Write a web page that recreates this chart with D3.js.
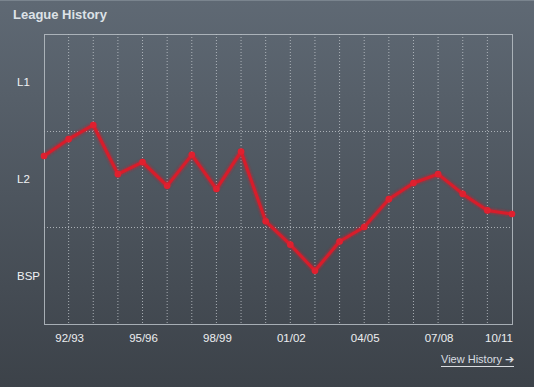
<!DOCTYPE html>
<html><head><meta charset="utf-8">
<script src="https://cdn.jsdelivr.net/npm/d3@7"></script>
<style>
html,body{margin:0;padding:0;background:#4a525b;}
svg{display:block;font-family:"Liberation Sans",Arial,sans-serif;}
</style></head>
<body><svg id="c" width="534" height="387"></svg>
<script>
const seasons = ["91/92","92/93","93/94","94/95","95/96","96/97","97/98","98/99","99/00","00/01","01/02","02/03","03/04","04/05","05/06","06/07","07/08","08/09","09/10","10/11"];
// overall position across the three divisions (1-24 L1, 25-48 L2, 49-72 BSP)
const positions = [30.3,26.1,22.6,34.8,31.8,37.7,30.0,38.5,29.2,46.5,52.3,58.8,51.5,47.9,41.0,37.0,34.8,39.7,43.8,44.7];
const divisions = ["L1","L2","BSP"];
const tickSeasons = ["92/93","95/96","98/99","01/02","04/05","07/08","10/11"];

const svg = d3.select("#c");
const W = 534, H = 387;
const m = {l:44, r:22, t:34, b:63};
const defs = svg.append("defs");
const bg = defs.append("linearGradient").attr("id","bg").attr("x1",0).attr("y1",0).attr("x2",0).attr("y2",1);
bg.append("stop").attr("offset","0%").attr("stop-color","#5f6974");
bg.append("stop").attr("offset","100%").attr("stop-color","#3c4249");
const glow = defs.append("filter").attr("id","glow").attr("x","-10%").attr("y","-20%").attr("width","120%").attr("height","140%");
glow.append("feGaussianBlur").attr("stdDeviation",1.2);

svg.append("rect").attr("width",W).attr("height",H).attr("fill","url(#bg)");
svg.append("rect").attr("x",0).attr("y",0).attr("width",W).attr("height",1).attr("fill","#7a848e");

svg.append("text").attr("x",13).attr("y",19).attr("fill","#dde2e7")
  .attr("font-size",13).attr("font-weight","bold").text("League History");

const x = d3.scalePoint().domain(seasons).range([m.l, W-m.r]);
const y = d3.scaleLinear().domain([0,72]).range([m.t, H-m.b]);
const band = d3.scaleBand().domain(divisions).range([m.t, H-m.b]);

// vertical dotted grid
svg.append("g").selectAll("line").data(seasons.slice(1,-1)).join("line")
  .attr("x1",d=>x(d)).attr("x2",d=>x(d)).attr("y1",m.t).attr("y2",H-m.b)
  .attr("stroke","#c9ced3").attr("stroke-width",1).attr("stroke-dasharray","1,2").attr("opacity",0.75);
// horizontal dotted grid
svg.append("g").selectAll("line").data(divisions.slice(1)).join("line")
  .attr("x1",m.l).attr("x2",W-m.r).attr("y1",d=>Math.round(band(d))+0.5).attr("y2",d=>Math.round(band(d))+0.5)
  .attr("stroke","#c9ced3").attr("stroke-width",1).attr("stroke-dasharray","1,2").attr("opacity",0.75);
// frame
svg.append("rect").attr("x",m.l+0.5).attr("y",m.t+0.5).attr("width",W-m.r-m.l).attr("height",H-m.b-m.t)
  .attr("fill","none").attr("stroke","#b9bfc5").attr("stroke-width",1).attr("opacity",0.85);

// y labels
svg.append("g").selectAll("text").data(divisions).join("text")
  .attr("x",17).attr("y",d=>band(d)+band.bandwidth()/2+4)
  .attr("fill","#f0f2f4").attr("font-size",11.5).text(d=>d);

// x labels
svg.append("g").selectAll("text").data(tickSeasons).join("text")
  .attr("x",(d,i)=> i===tickSeasons.length-1 ? x(d)+1 : x(d)+1)
  .attr("text-anchor",(d,i)=> i===tickSeasons.length-1 ? "end" : "middle")
  .attr("y",H-m.b+18).attr("fill","#eceef0").attr("font-size",11.5).text(d=>d);

// line
const line = d3.line().x((d,i)=>x(seasons[i])).y(d=>y(d));
const g = svg.append("g");
g.append("path").datum(positions).attr("d",line).attr("fill","none")
  .attr("stroke","#d21a2a").attr("stroke-width",5).attr("stroke-linejoin","round").attr("opacity",0.55).attr("filter","url(#glow)");
g.append("path").datum(positions).attr("d",line).attr("fill","none")
  .attr("stroke","#d71d2b").attr("stroke-width",3).attr("stroke-linejoin","round");
g.selectAll("circle").data(positions).join("circle")
  .attr("cx",(d,i)=>x(seasons[i])).attr("cy",d=>y(d)).attr("r",3.3).attr("fill","#e0202f");

// View History link
const link = svg.append("g");
const t = link.append("text").attr("x",441).attr("y",363).attr("fill","#d9dde1").attr("font-size",11).text("View History \u2794");
link.append("line").attr("x1",441).attr("x2",514).attr("y1",366.5).attr("y2",366.5).attr("stroke","#d9dde1").attr("stroke-width",1);
</script></body></html>
